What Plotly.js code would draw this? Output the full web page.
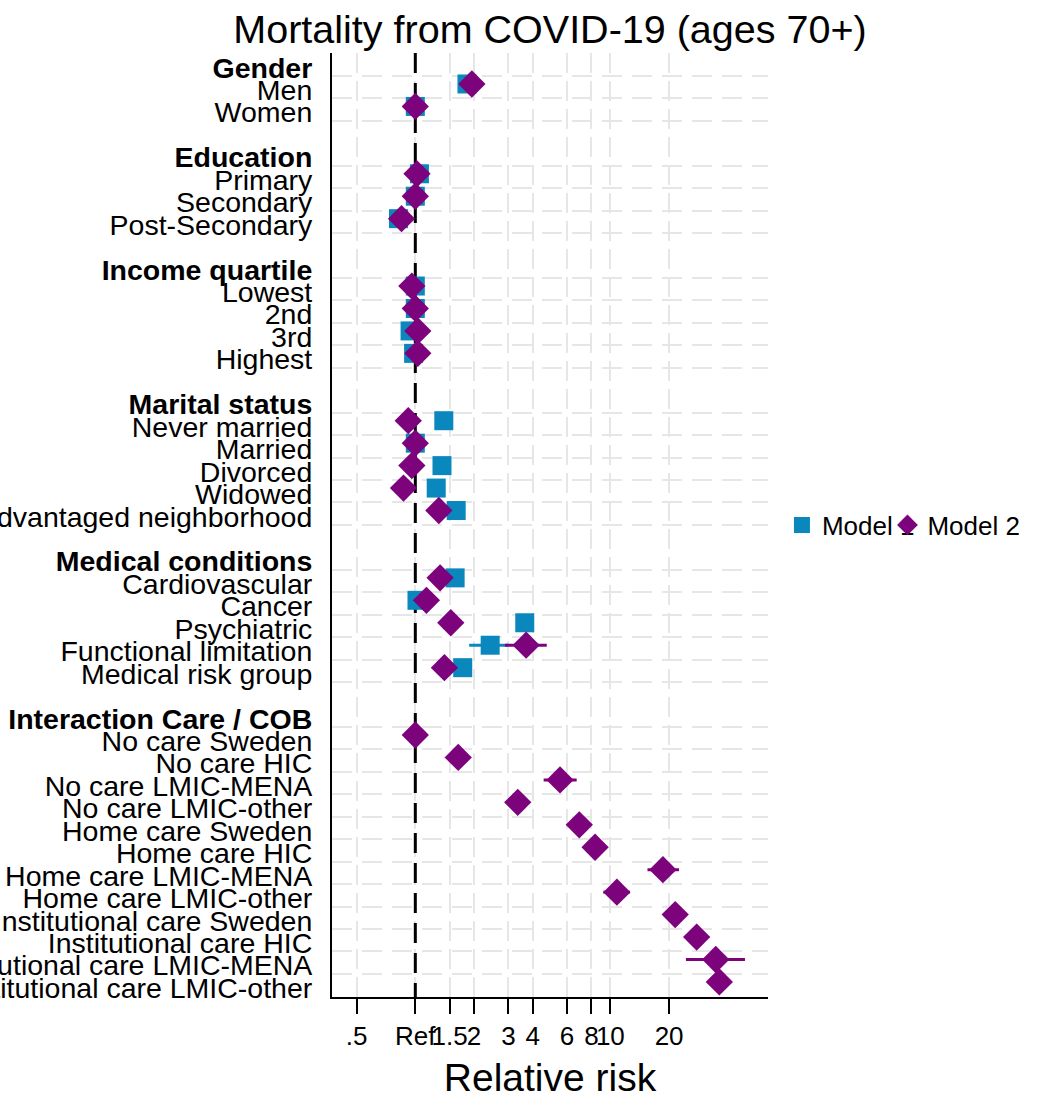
<!DOCTYPE html>
<html>
<head>
<meta charset="utf-8">
<script src="https://cdn.plot.ly/plotly-3.0.1.min.js"></script>
<style>
  html, body { margin: 0; padding: 0; background: #ffffff; }
  #chart { width: 1037px; height: 1099px; }
</style>
</head>
<body>
<div id="chart"></div>
<script>
// ---------------- data ----------------
const groupTitles = ['Gender', 'Education', 'Income quartile', 'Marital status',
                     'Medical conditions', 'Interaction Care / COB'];

const groupItems = [
  ['Men', 'Women'],
  ['Primary', 'Secondary', 'Post-Secondary'],
  ['Lowest', '2nd', '3rd', 'Highest'],
  ['Never married', 'Married', 'Divorced', 'Widowed', 'Disadvantaged neighborhood'],
  ['Cardiovascular', 'Cancer', 'Psychiatric', 'Functional limitation', 'Medical risk group'],
  ['No care Sweden', 'No care HIC', 'No care LMIC-MENA', 'No care LMIC-other',
   'Home care Sweden', 'Home care HIC', 'Home care LMIC-MENA', 'Home care LMIC-other',
   'Institutional care Sweden', 'Institutional care HIC', 'Institutional care LMIC-MENA',
   'Institutional care LMIC-other']
];

// Model 1 relative risks (null = not estimated)
const model1 = [
  [1.84, 1.00],
  [1.05, 1.00, 0.82],
  [1.00, 1.00, 0.94, 0.98],
  [1.40, 1.00, 1.37, 1.28, 1.62],
  [1.60, 1.02, 3.64, 2.42, 1.75],
  [null, null, null, null, null, null, null, null, null, null, null, null]
];
const model1Lo = [
  [null, null], [null, null, null], [null, null, null, null],
  [null, null, null, null, null],
  [null, null, null, 1.89, null],
  [null, null, null, null, null, null, null, null, null, null, null, null]
];
const model1Hi = [
  [null, null], [null, null, null], [null, null, null, null],
  [null, null, null, null, null],
  [null, null, null, 3.00, null],
  [null, null, null, null, null, null, null, null, null, null, null, null]
];

// Model 2 relative risks
const model2 = [
  [1.95, 1.00],
  [1.02, 1.00, 0.85],
  [0.96, 1.00, 1.03, 1.03],
  [0.92, 1.00, 0.96, 0.87, 1.32],
  [1.34, 1.14, 1.52, 3.70, 1.41],
  [1.00, 1.66, 5.52, 3.35, 6.93, 8.35, 18.6, 10.8, 21.5, 27.7, 34.7, 36.2]
];
const model2Lo = [
  [null, null], [null, null, null], [null, null, null, null],
  [null, null, null, null, null],
  [null, null, null, 2.88, null],
  [null, null, 4.55, null, null, null, 15.5, 9.2, null, null, 24.4, null]
];
const model2Hi = [
  [null, null], [null, null, null], [null, null, null, null],
  [null, null, null, null, null],
  [null, null, null, 4.72, null],
  [null, null, 6.72, null, null, null, 22.5, 12.6, null, null, 49.0, null]
];

const xTickVals = [0.5, 1, 1.5, 2, 3, 4, 6, 8, 10, 20];
const xTickText = ['.5', 'Ref', '1.5', '2', '3', '4', '6', '8', '10', '20'];
const REF = 1;

// ---------------- build rows ----------------
const tickVals = [], tickText = [], itemRows = [];
const m1x = [], m1y = [], m1p = [], m1m = [];
const m2x = [], m2y = [], m2p = [], m2m = [];
let row = 0;
groupTitles.forEach(function (title, g) {
  tickVals.push(row); tickText.push('<b>' + title + '</b>');
  row++;
  groupItems[g].forEach(function (item, i) {
    tickVals.push(row); tickText.push(item); itemRows.push(row);
    const v1 = model1[g][i], v2 = model2[g][i];
    if (v1 !== null) {
      m1x.push(v1); m1y.push(row);
      m1p.push(model1Hi[g][i] !== null ? model1Hi[g][i] - v1 : 0);
      m1m.push(model1Lo[g][i] !== null ? v1 - model1Lo[g][i] : 0);
    }
    if (v2 !== null) {
      m2x.push(v2); m2y.push(row);
      m2p.push(model2Hi[g][i] !== null ? model2Hi[g][i] - v2 : 0);
      m2m.push(model2Lo[g][i] !== null ? v2 - model2Lo[g][i] : 0);
    }
    row++;
  });
  if (g < groupTitles.length - 1) row++;
});
const lastRow = row - 1;

// horizontal grid lines bounding every item row
const gridSet = {};
itemRows.forEach(function (r) {
  gridSet[(r - 0.36).toFixed(2)] = true;
  gridSet[(r + 0.64).toFixed(2)] = true;
});
const hGrid = Object.keys(gridSet).map(Number);

const yTop = -0.38, yBottom = lastRow + 0.67;

const BLUE = '#0a88bd';
const PURPLE = '#7d037d';
const FONT = 'Liberation Sans, Arial, Helvetica, sans-serif';

const traces = [
  {
    x: [REF, REF], y: [yTop, yBottom], mode: 'lines', type: 'scatter',
    line: { color: '#000000', width: 3, dash: '20px,10px' },
    hoverinfo: 'skip', showlegend: false
  },
  {
    x: m1x, y: m1y, type: 'scatter', mode: 'markers', name: 'Model 1',
    legend: 'legend',
    marker: { symbol: 'square', size: 19, color: BLUE },
    error_x: { type: 'data', symmetric: false, array: m1p, arrayminus: m1m,
               color: BLUE, thickness: 3, width: 0 }
  },
  {
    x: m2x, y: m2y, type: 'scatter', mode: 'markers', name: 'Model 2',
    legend: 'legend2',
    marker: { symbol: 'diamond', size: 21, color: PURPLE },
    error_x: { type: 'data', symmetric: false, array: m2p, arrayminus: m2m,
               color: PURPLE, thickness: 3, width: 0 }
  }
];

const legendFont = { family: FONT, size: 26, color: '#000000' };

const layout = {
  width: 1037, height: 1099,
  margin: { l: 332, r: 269, t: 53, b: 102, pad: 0 },
  paper_bgcolor: '#ffffff', plot_bgcolor: '#ffffff',
  font: { family: FONT, color: '#000000' },
  title: {
    text: 'Mortality from COVID-19 (ages 70+)',
    font: { family: FONT, size: 39.5, color: '#000000' },
    xref: 'paper', x: 0.5, xanchor: 'center',
    yref: 'container', y: 0.973, yanchor: 'middle'
  },
  xaxis: {
    type: 'log',
    range: [Math.log10(0.374), Math.log10(64.3)],
    tickmode: 'array', tickvals: xTickVals, ticktext: xTickText,
    tickangle: 0,
    ticks: 'outside', ticklen: 15, tickwidth: 2, tickcolor: '#000000',
    tickfont: { family: FONT, size: 26, color: '#000000' },
    showline: true, linecolor: '#000000', linewidth: 2,
    showgrid: true, gridcolor: '#e6e6e6', gridwidth: 2, griddash: '20px,8px',
    zeroline: false, automargin: false,
    title: { text: 'Relative risk', font: { family: FONT, size: 39, color: '#000000' }, standoff: 15 }
  },
  yaxis: {
    range: [yBottom, yTop],
    tickmode: 'array', tickvals: tickVals, ticktext: tickText,
    ticks: '', ticklabelstandoff: 12, ticklabelshift: -6,
    tickfont: { family: FONT, size: 28.5, color: '#000000' },
    showline: true, linecolor: '#000000', linewidth: 2,
    showgrid: false, zeroline: false, automargin: false,
    minor: {
      tickmode: 'array', tickvals: hGrid, ticks: '',
      showgrid: true, gridcolor: '#e6e6e6', gridwidth: 2, griddash: '20px,10px'
    }
  },
  showlegend: true,
  legend: {
    orientation: 'h', x: 1.032, xanchor: 'left', y: 0.5, yanchor: 'middle',
    font: legendFont, bgcolor: 'rgba(0,0,0,0)', borderwidth: 0
  },
  legend2: {
    orientation: 'h', x: 1.274, xanchor: 'left', y: 0.5, yanchor: 'middle',
    font: legendFont, bgcolor: 'rgba(0,0,0,0)', borderwidth: 0
  },
  hovermode: false
};

Plotly.newPlot('chart', traces, layout, { displayModeBar: false, staticPlot: true });
</script>
</body>
</html>
